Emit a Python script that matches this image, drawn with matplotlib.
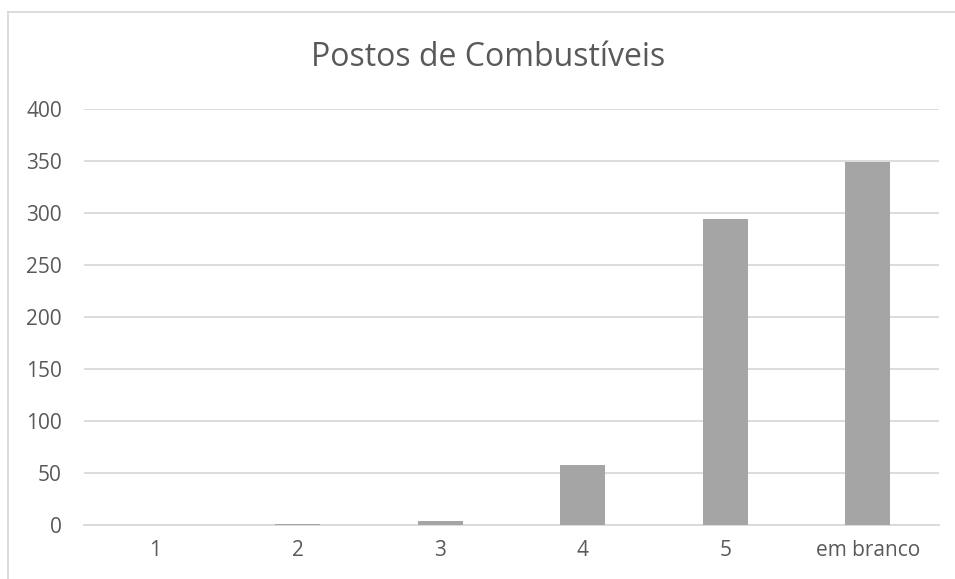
import matplotlib
matplotlib.use("Agg")
import matplotlib.pyplot as plt
from matplotlib.lines import Line2D

# dados do gráfico
categorias = ['1', '2', '3', '4', '5', 'em branco']
valores = [0, 1, 4, 58, 294, 349]
yticks = [0, 50, 100, 150, 200, 250, 300, 350, 400]
titulo = 'Postos de Combustíveis'

plt.rcParams['font.family'] = ['Open Sans', 'DejaVu Sans']

W, H = 955, 579
fig = plt.figure(figsize=(W / 100, H / 100), dpi=100)
ax = fig.add_axes([84 / W, 1 - 525 / H, (939 - 84) / W, (525 - 109) / H])

x = list(range(len(categorias)))
ax.bar(x, valores, width=0.313, color='#A5A5A5', zorder=3)

ax.set_xlim(-0.5, len(categorias) - 0.5)
ax.set_ylim(0, 400)
ax.set_yticks(yticks)
ax.set_xticks(x)
ax.set_xticklabels(categorias)
ax.grid(axis='y', color='#D9D9D9', linewidth=1.3, zorder=0)
for s in ['top', 'right', 'left']:
    ax.spines[s].set_visible(False)
ax.spines['bottom'].set_color('#D9D9D9')
ax.spines['bottom'].set_linewidth(1.3)
ax.tick_params(axis='both', length=0, labelsize=15, labelcolor='#595959')
ax.tick_params(axis='x', pad=11)
ax.tick_params(axis='y', pad=16)

# título centrado na área do gráfico (como no Excel)
fig.text(488 / W, 1 - 58 / H, titulo, ha='center', va='center',
         fontsize=23, color='#595959')

# borda da área do gráfico
fig.add_artist(Line2D([8 / W, 8 / W], [0, 1 - 11.5 / H], color='#D9D9D9',
                      linewidth=1.3, transform=fig.transFigure))
fig.add_artist(Line2D([8 / W, 1], [1 - 11.5 / H, 1 - 11.5 / H], color='#D9D9D9',
                      linewidth=1.3, transform=fig.transFigure))

fig.savefig('out.png', dpi=100, facecolor='white')
